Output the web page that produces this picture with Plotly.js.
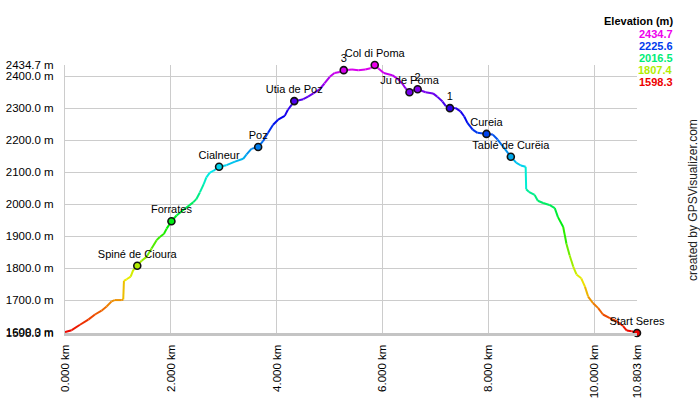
<!DOCTYPE html>
<html><head><meta charset="utf-8">
<script src="https://cdn.plot.ly/plotly-3.0.1.min.js"></script>
<style>html,body{margin:0;padding:0;background:#fff}#chart{width:700px;height:400px}</style>
</head><body><div id="chart"></div>
<script>
// Track profile: distance (km) and elevation (m)
const distKm = [0,0.126,0.283,0.44,0.566,0.69,0.786,0.88,0.94,1.07,1.1,1.113,1.164,1.24,1.29,1.365,1.447,1.54,1.635,1.73,1.79,1.87,1.92,2.01,2.107,2.264,2.42,2.48,2.547,2.62,2.67,2.736,2.8,2.91,3.05,3.21,3.365,3.43,3.52,3.648,3.74,3.835,3.93,4.025,4.15,4.21,4.28,4.33,4.40,4.5,4.59,4.69,4.81,4.90,5.0,5.09,5.19,5.264,5.42,5.54,5.67,5.77,5.85,5.92,6.02,6.18,6.27,6.37,6.43,6.506,6.59,6.66,6.81,6.95,7.03,7.13,7.19,7.27,7.38,7.47,7.54,7.6,7.7,7.79,7.96,8.08,8.17,8.27,8.42,8.52,8.61,8.70,8.71,8.76,8.87,8.93,9.03,9.15,9.25,9.31,9.41,9.47,9.53,9.6,9.66,9.75,9.82,9.88,9.97,10.07,10.16,10.29,10.42,10.54,10.61,10.70,10.803];
const elevM = [1601,1607,1624,1640,1656,1668,1681,1697,1701,1701,1703,1761,1766,1774,1795,1808,1824,1836,1862,1888,1898,1908,1924,1947,1965,1986,2006,2016,2037,2063,2084,2099,2104,2117,2122,2133,2142,2156,2173,2179,2197,2223,2248,2264,2276,2295,2310,2322,2324,2328,2336,2346,2359,2377,2398,2410,2413,2418.6,2420.6,2418.6,2420.6,2424.7,2434.7,2423.7,2410,2403,2393,2377,2362,2349.5,2357,2359,2349.5,2346,2336,2320.6,2307,2300,2300,2290,2274,2254,2233,2223,2219.6,2217.5,2202,2181,2148.5,2130,2121,2117,2047,2039,2029,2011,2004,1998,1988,1960,1929,1877,1841,1805,1781,1769,1743,1712,1692,1676,1656,1645,1635,1620,1606,1604,1598.3];

// Waypoints
const wpNames = ["Spiné de Cioura","Forrates","Cialneur","Poz","Utia de Poz","3","Col di Poma","Ju de Poma","2","1","Cureia","Tablé de Curëia","Start Seres"];
const wpKm = [1.365,2.01,2.91,3.648,4.33,5.264,5.85,6.506,6.66,7.27,7.96,8.42,10.803];
const wpElev = [1808,1947,2117,2179,2322,2418.6,2434.7,2349.5,2359,2300,2219.6,2148.5,1598.3];

// Axis ticks
const xTickVals = [0,2,4,6,8,10,10.803];
const xTickText = ["0.000 km","2.000 km","4.000 km","6.000 km","8.000 km","10.000 km","10.803 km"];
const yTickVals = [1598.3,1600,1700,1800,1900,2000,2100,2200,2300,2400,2434.7];
const yTickText = ["1598.3 m","1600.0 m","1700.0 m","1800.0 m","1900.0 m","2000.0 m","2100.0 m","2200.0 m","2300.0 m","2400.0 m","2434.7 m"];

// Colour legend values
const legendVals = [2434.7,2225.6,2016.5,1807.4,1598.3];

const eMin = 1598.3, eMax = 2434.7;
function colorFor(e){
  let f = (e - eMin)/(eMax - eMin); f = Math.max(0, Math.min(1, f));
  const h = 300*f/60, v = 0.93;
  const i = Math.floor(h), fr = h - i;
  const p = 0, q = v*(1-fr), t = v*fr;
  let r,g,b;
  switch(i%6){case 0:r=v;g=t;b=p;break;case 1:r=q;g=v;b=p;break;case 2:r=p;g=v;b=t;break;case 3:r=p;g=q;b=v;break;case 4:r=t;g=p;b=v;break;default:r=v;g=p;b=q;}
  return 'rgb('+Math.round(r*255)+','+Math.round(g*255)+','+Math.round(b*255)+')';
}

const traces = [];
for (let i = 0; i < distKm.length-1; i++){
  traces.push({x:[distKm[i],distKm[i+1]], y:[elevM[i],elevM[i+1]], mode:'lines', type:'scatter',
    line:{color:colorFor((elevM[i]+elevM[i+1])/2), width:2}, hoverinfo:'skip', showlegend:false, cliponaxis:false});
}
traces.push({x:wpKm, y:wpElev, text:wpNames, mode:'markers+text', type:'scatter', textposition:'top center',
  textfont:{family:'Liberation Sans, Arial, sans-serif', size:11, color:'#000'},
  marker:{size:7, color:wpElev.map(colorFor), opacity:1, line:{color:'#111', width:1.6}}, showlegend:false, cliponaxis:false});

const font = {family:'Liberation Sans, Arial, sans-serif', size:11.5, color:'#000'};
const annotations = [{xref:'paper', yref:'paper', x:(675-65)/572, y:(333-21)/268, xanchor:'right', yanchor:'middle',
  text:'<b>Elevation (m)</b>', showarrow:false, font:{family:'Liberation Sans, Arial, sans-serif', size:11, color:'#000'}}];
legendVals.forEach((v,k)=>{
  annotations.push({xref:'paper', yref:'paper', x:(675-65)/572, y:(333-(34.5+11.8*k))/268, xanchor:'right', yanchor:'middle',
    text:'<b>'+v.toFixed(1)+'</b>', showarrow:false, font:{family:'Liberation Sans, Arial, sans-serif', size:11, color:colorFor(v)}});
});
annotations.push({xref:'paper', yref:'paper', x:(693-65)/572, y:(333-200)/268, xanchor:'center', yanchor:'middle', textangle:-90,
  text:'created by GPSVisualizer.com', showarrow:false, font:{family:'Liberation Sans, Arial, sans-serif', size:12, color:'#222'}});

const layout = {
  width:700, height:400, margin:{l:65, r:63, t:65, b:67},
  paper_bgcolor:'#fff', plot_bgcolor:'#fff', font:font, showlegend:false,
  xaxis:{range:[0,10.803], tickvals:xTickVals, ticktext:xTickText, tickangle:-90, showgrid:true, gridcolor:'#cccccc', gridwidth:1,
    zeroline:false, showline:true, linecolor:'#c4c4c4', linewidth:3, ticks:'', ticklabelstandoff:4, tickfont:font, fixedrange:true},
  yaxis:{range:[eMin,eMax], tickvals:yTickVals, ticktext:yTickText, showgrid:true, gridcolor:'#cccccc', gridwidth:1,
    zeroline:false, showline:true, linecolor:'#cccccc', linewidth:1, ticks:'', ticklabelstandoff:8, tickfont:font, fixedrange:true},
  annotations:annotations
};
Plotly.newPlot('chart', traces, layout, {displayModeBar:false, staticPlot:true});
</script></body></html>
